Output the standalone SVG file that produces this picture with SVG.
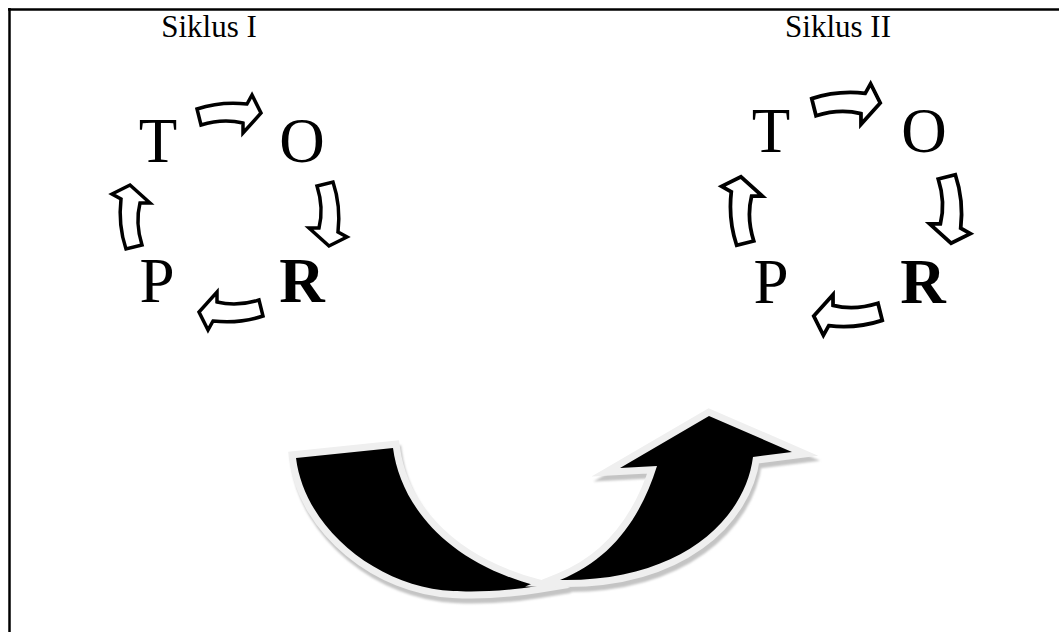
<svg xmlns="http://www.w3.org/2000/svg" width="1059" height="632" viewBox="0 0 1059 632">
  <defs>
    <style>
      .title { font-family: "Liberation Serif", "Times New Roman", serif; font-size: 31px; fill: #000; text-anchor: middle; }
      .letter { font-family: "Liberation Serif", "Times New Roman", serif; font-size: 63px; fill: #000; text-anchor: middle; }
      .bold { font-weight: bold; }
      .step { fill: #fff; stroke: #000; stroke-width: 3.5; stroke-linejoin: miter; }
      .edge { fill: #efefef; stroke: #efefef; stroke-width: 14; stroke-linejoin: miter; stroke-miterlimit: 6; }
      .shade { fill: #c4c4c4; stroke: #c4c4c4; stroke-width: 14; stroke-linejoin: miter; stroke-miterlimit: 6; }
      .core { fill: #000; }
    </style>
    <!-- curved block arrow pointing along +x, bulging toward -y -->
    <path id="stepArrow" d="M -32,-5 Q -8,-13 18,-10 L 23,-19 L 32,-1 L 14,19 L 14,9 Q -6,4 -28,11 Z"/>
    <path id="armLeft" d="M296,458 L393,448 C400,500 440,560 537,586 C500,592 470,592 453,591 C380,588 305,530 296,458 Z"/>
    <path id="armRight" d="M560,580 C680,582 745,520 753,457 L792,452 L709,416 L620,468 L657,466 C640,520 610,560 560,580 Z"/>
    <filter id="soft" x="-10%" y="-10%" width="120%" height="120%">
      <feGaussianBlur stdDeviation="1"/>
    </filter>
  </defs>

  <rect width="1059" height="632" fill="#fff"/>

  <!-- frame -->
  <g id="frame" stroke="#000" stroke-width="2.5" fill="none">
    <line x1="8" y1="9.5" x2="1059" y2="9.5"/>
    <line x1="9.5" y1="8" x2="9.5" y2="632"/>
  </g>

  <!-- cycle I -->
  <g id="cycle1">
    <text class="title" x="209" y="37">Siklus I</text>
    <g id="c1-T"><text class="letter" x="158" y="162">T</text></g>
    <g id="c1-O"><text class="letter" x="302" y="162">O</text></g>
    <g id="c1-R"><text class="letter bold" x="302" y="302">R</text></g>
    <g id="c1-P"><text class="letter" x="157" y="302">P</text></g>
    <g id="c1-connectors">
      <use href="#stepArrow" class="step" transform="translate(229,114)"/>
      <use href="#stepArrow" class="step" transform="translate(328,214) rotate(90)"/>
      <use href="#stepArrow" class="step" transform="translate(231,311) rotate(180)"/>
      <use href="#stepArrow" class="step" transform="translate(131,217) rotate(270)"/>
    </g>
  </g>

  <!-- cycle II -->
  <g id="cycle2">
    <text class="title" x="838" y="37">Siklus II</text>
    <g id="c2-T"><text class="letter" x="771" y="152">T</text></g>
    <g id="c2-O"><text class="letter" x="924" y="152">O</text></g>
    <g id="c2-R"><text class="letter bold" x="923" y="303">R</text></g>
    <g id="c2-P"><text class="letter" x="771" y="303">P</text></g>
    <g id="c2-connectors">
      <use href="#stepArrow" class="step" transform="translate(846,104) scale(1.07)"/>
      <use href="#stepArrow" class="step" transform="translate(950,209) rotate(90) scale(1.07)"/>
      <use href="#stepArrow" class="step" transform="translate(848,315) rotate(180) scale(1.07)"/>
      <use href="#stepArrow" class="step" transform="translate(742,211) rotate(270) scale(1.07)"/>
    </g>
  </g>

  <!-- large transition arrow between the cycles -->
  <g id="transition">
    <g filter="url(#soft)" transform="translate(2,5)">
      <use href="#armLeft" class="shade"/>
      <use href="#armRight" class="shade"/>
    </g>
    <use href="#armLeft" class="edge"/>
    <use href="#armLeft" class="core"/>
    <use href="#armRight" class="edge"/>
    <use href="#armRight" class="core"/>
  </g>
</svg>
